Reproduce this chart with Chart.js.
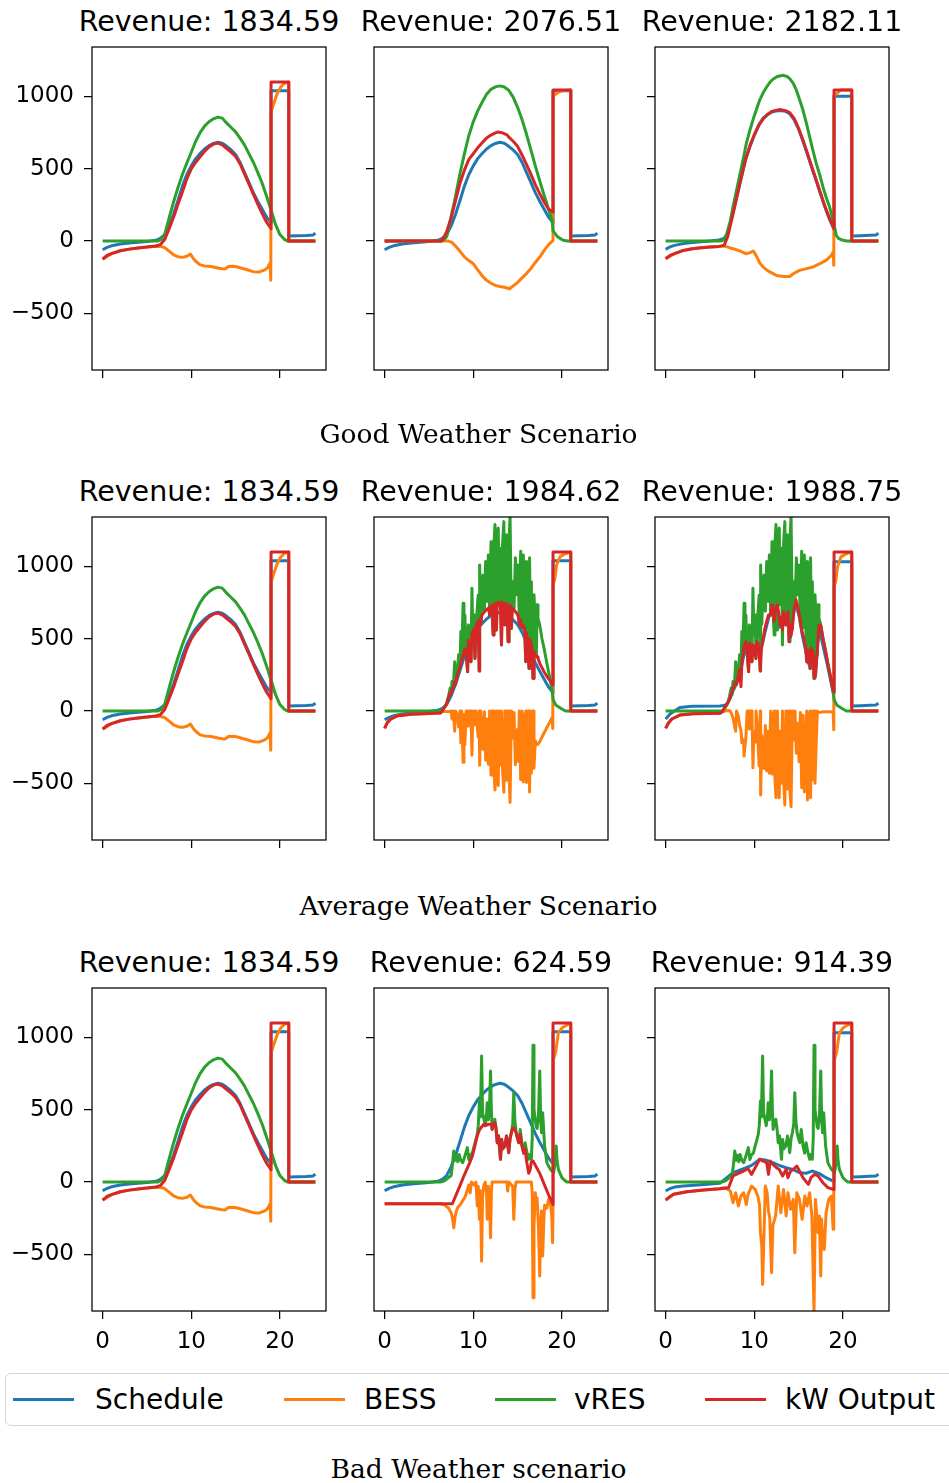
<!DOCTYPE html>
<html><head><meta charset="utf-8">
<script src="https://cdn.jsdelivr.net/npm/chart.js@4.4.0/dist/chart.umd.min.js"></script>
<style>
html,body{margin:0;padding:0;background:#fff;}
#fig{position:relative;width:949px;height:1483px;overflow:hidden;background:#fff;font-family:'DejaVu Sans',sans-serif;}
#fig canvas{position:absolute;}
.ttl{position:absolute;font-size:28.5px;line-height:1;color:#000;white-space:nowrap;transform:translateX(-50%);}
.cap{position:absolute;font-family:'DejaVu Serif',serif;font-size:26.5px;line-height:1;color:#000;white-space:nowrap;transform:translateX(-50%);}
.lgbox{position:absolute;left:5px;top:1373px;width:980px;height:53px;border:1.5px solid #d6d6d6;border-radius:6px;box-sizing:border-box;background:#fff;}
.lgline{position:absolute;height:3px;top:1398px;}
.lgtxt{position:absolute;font-size:28px;line-height:1;top:1386px;white-space:nowrap;color:#000;}
</style></head>
<body><div id="fig"></div>
<script>
// ---------------- data ----------------
const hourTicks = [0, 10, 20];
const valueTicks = [-500, 0, 500, 1000];
const revenues = ["1834.59","2076.51","2182.11","1834.59","1984.62","1988.75","1834.59","624.59","914.39"];
const scenarios = ["Good Weather Scenario","Average Weather Scenario","Bad Weather scenario"];
const seriesNames = ["Schedule","BESS","vRES","kW Output"];

// schedule shared by columns 1 and 2
const schedForecast = [[0,-60],[0.5,-44],[1,-33],[2,-21],[3,-14],[4,-8],[5,-3],[6,5],[6.5,18],[7,45],[7.5,105],[8,185],[8.5,280],[9,380],[9.5,460],[10,520],[10.5,570],[11,605],[11.5,637],[12,660],[12.5,675],[13,683],[13.5,676],[14,655],[14.5,630],[15,598],[15.5,545],[16,475],[16.5,405],[17,335],[17.5,275],[18,220],[18.5,165],[19,125],[19,1040],[21,1040],[21,35],[22,36],[23,38],[23.75,42],[24,55]];

// column 1 (identical in all scenarios)
const vresBase = [[0,0],[6.2,0],[6.6,12],[7,45],[7.5,160],[8,270],[8.5,370],[9,460],[9.5,540],[10,614],[10.5,690],[11,750],[11.5,795],[12,825],[12.5,845],[13,857],[13.5,850],[14,815],[14.5,785],[15,755],[15.5,712],[16,665],[16.5,605],[17,545],[17.5,475],[18,400],[18.5,310],[19,215],[19.5,115],[20,45],[20.5,12],[20.9,0],[24,0]];
const outBase = [[0,-125],[0.5,-100],[1,-87],[2,-67],[3,-56],[4,-48],[5,-42],[6,-34],[6.5,-25],[7,10],[7.5,85],[8,165],[8.5,255],[9,340],[9.5,430],[10,499],[10.5,545],[11,582],[11.5,620],[12,650],[12.5,670],[13,677],[13.5,665],[14,640],[14.5,615],[15,585],[15.5,535],[16,465],[16.5,395],[17,325],[17.5,255],[18,190],[18.5,130],[19,85],[19,1100],[21,1100],[21,0],[24,0]];
const bessBase = [[0,-125],[1,-87],[2,-67],[3,-56],[4,-48],[5,-42],[6,-36],[6.5,-37],[7,-45],[7.5,-70],[8,-95],[8.5,-108],[9,-113],[9.5,-105],[9.9,-90],[10.2,-118],[10.5,-140],[11,-165],[11.5,-172],[12,-175],[12.5,-180],[13,-187],[13.5,-192],[13.8,-194],[14.2,-176],[14.7,-175],[15.2,-180],[15.7,-188],[16.3,-199],[17,-212],[17.7,-214],[18.3,-200],[18.6,-185],[18.9,-150],[18.97,-272],[19,890],[19.3,950],[19.7,1020],[20.1,1065],[20.5,1090],[21,1100],[21,0],[24,0]];

// good weather, columns 2 and 3
const vresGoodB = [[0,0],[6.3,0],[6.7,10],[7,30],[7.5,170],[8,310],[8.5,466],[9,605],[9.5,730],[10,824],[10.5,900],[11,960],[11.5,1015],[12,1050],[12.5,1066],[13,1073],[13.5,1065],[14,1043],[14.5,995],[15,925],[15.5,840],[16,740],[16.5,630],[17,520],[17.5,415],[18,315],[18.5,220],[18.9,143],[19,70],[19.5,30],[20,10],[20.3,3],[20.6,0],[24,0]];
const outGoodB = [[0,0],[6.4,0],[6.6,16],[7,65],[7.5,160],[8,280],[8.5,400],[9,490],[9.5,565],[10,604],[10.5,645],[11,680],[11.5,712],[12,733],[12.5,748],[12.8,754],[13.3,748],[13.8,735],[14.1,713],[14.5,690],[15,655],[15.5,595],[16,530],[16.5,462],[17,390],[17.5,328],[18,270],[18.5,220],[19,200],[19,1045],[21,1045],[21,0],[24,0]];
const bessGoodB = [[0,0],[7.2,0],[7.6,-10],[8,-35],[8.5,-70],[9,-110],[9.5,-135],[10,-157],[10.5,-200],[11,-240],[11.5,-272],[12,-292],[12.5,-307],[13,-314],[13.5,-320],[14.1,-330],[14.5,-310],[15,-287],[15.5,-255],[16,-225],[16.5,-190],[17,-148],[17.5,-111],[18,-65],[18.5,-25],[19,5],[19,1000],[19.5,1025],[20,1040],[21,1045],[21,0],[24,0]];
const schedGoodC = [[0,-58],[0.5,-40],[1,-30],[2,-18],[3,-10],[4,-5],[5,0],[6,8],[6.5,16],[7,45],[7.5,170],[8,300],[8.5,430],[9,560],[9.5,650],[10,730],[10.5,800],[11,850],[11.5,875],[12,893],[12.5,900],[13,903],[13.5,898],[14,880],[14.5,838],[15,775],[15.5,690],[16,600],[16.5,505],[17,415],[17.5,320],[18,230],[18.5,150],[19,80],[19,1001],[21,1001],[21,35],[22,37],[23,40],[23.75,42],[24,55]];
const vresGoodC = [[0,0],[6.3,0],[6.6,10],[6.9,51],[7.3,140],[7.6,235],[8,350],[8.4,466],[8.8,580],[9.1,674],[9.5,765],[9.9,847],[10.3,920],[10.6,973],[11,1025],[11.4,1066],[11.8,1100],[12.1,1119],[12.6,1138],[13.3,1146],[13.7,1138],[14,1123],[14.4,1090],[14.75,1043],[15.1,980],[15.5,904],[15.9,810],[16.25,720],[16.6,630],[17,535],[17.4,455],[17.75,374],[18.1,305],[18.5,235],[18.9,143],[19.25,39],[19.5,18],[19.8,9],[20.4,0],[24,0]];
const outGoodC = [[0,-122],[0.5,-100],[1,-87],[2,-65],[3,-54],[4,-47],[5,-42],[6,-37],[6.6,-30],[7,30],[7.5,160],[8,295],[8.5,430],[9,560],[9.5,660],[10,735],[10.5,800],[11,845],[11.5,875],[12,897],[12.5,905],[13,909],[13.5,902],[14,888],[14.5,848],[15,780],[15.5,697],[16,605],[16.5,512],[17,420],[17.5,327],[18,235],[18.5,155],[19,85],[19,1045],[21,1045],[21,0],[24,0]];
const bessGoodC = [[0,-122],[1,-87],[2,-65],[3,-54],[4,-47],[5,-42],[6,-37],[6.6,-35],[7.1,-44],[7.6,-53],[8.4,-69],[9.1,-88],[9.5,-80],[9.9,-69],[10.3,-111],[10.6,-150],[11,-180],[11.4,-200],[11.8,-215],[12.5,-238],[13.3,-245],[14,-245],[14.4,-226],[15.1,-203],[15.9,-191],[16.6,-180],[17.4,-157],[18.1,-134],[18.7,-99],[18.9,-76],[18.97,-168],[19,1005],[19.4,1025],[19.8,1045],[21,1045],[21,0],[24,0]];

// average weather
const vresAvg = [[0,0],[6.3,0],[6.5,7],[6.8,30],[7.0,55],[7.2,100],[7.4,160],[7.5,115],[7.6,205],[7.75,160],[7.9,340],[8.0,185],[8.2,275],[8.35,390],[8.5,300],[8.6,550],[8.7,365],[8.85,745],[8.95,435],[9.05,665],[9.2,400],[9.36,272],[9.45,595],[9.55,440],[9.74,341],[9.85,850],[9.95,530],[10.1,665],[10.19,364],[10.3,560],[10.4,665],[10.55,800],[10.67,277],[10.72,1010],[10.85,600],[10.95,780],[11.1,940],[11.25,690],[11.4,1035],[11.55,760],[11.7,1080],[11.85,665],[12.0,1170],[12.1,710],[12.25,526],[12.33,1150],[12.45,1290],[12.55,760],[12.62,560],[12.7,1220],[12.82,1265],[12.92,735],[13.05,1125],[13.18,457],[13.3,1150],[13.45,1310],[13.56,595],[13.65,690],[13.75,1220],[13.85,665],[13.93,480],[14.03,1150],[14.15,1360],[14.3,572],[14.4,760],[14.5,895],[14.6,710],[14.75,1060],[14.9,805],[15.05,1010],[15.2,595],[15.35,1105],[15.5,575],[15.65,1080],[15.8,600],[15.92,341],[16.0,1035],[16.15,480],[16.29,295],[16.35,1060],[16.45,500],[16.55,895],[16.65,420],[16.74,226],[16.85,805],[17.0,595],[17.12,388],[17.2,735],[17.3,640],[17.5,595],[17.75,500],[18.0,430],[18.3,330],[18.6,240],[18.9,140],[19.0,80],[19.3,42],[19.6,30],[20.0,14],[20.4,0],[24,0]];
const outAvgB = [[0,-120],[0.3,-80],[0.7,-55],[1.5,-32],[3,-22],[5,-17],[6.3,-14],[6.5,0],[6.8,28],[7.0,50],[7.2,95],[7.4,125],[7.5,115],[7.6,150],[7.75,160],[7.9,200],[8.0,185],[8.2,250],[8.35,280],[8.5,300],[8.6,330],[8.7,360],[8.85,390],[8.95,410],[9.05,430],[9.2,400],[9.36,272],[9.45,490],[9.55,440],[9.74,341],[9.85,545],[9.95,530],[10.1,570],[10.19,364],[10.3,560],[10.4,605],[10.55,620],[10.67,277],[10.72,635],[10.85,600],[10.95,660],[11.1,675],[11.25,685],[11.4,695],[11.55,705],[11.7,712],[11.85,665],[12.0,728],[12.1,710],[12.25,526],[12.33,738],[12.45,744],[12.55,746],[12.62,560],[12.7,748],[12.82,750],[12.92,735],[13.05,752],[13.18,457],[13.3,750],[13.45,748],[13.56,595],[13.65,690],[13.75,742],[13.85,665],[13.93,480],[14.03,734],[14.15,728],[14.3,572],[14.4,712],[14.5,708],[14.6,700],[14.75,688],[14.9,675],[15.05,662],[15.2,595],[15.35,630],[15.5,575],[15.65,590],[15.8,565],[15.92,341],[16.0,540],[16.15,480],[16.29,295],[16.35,500],[16.45,480],[16.55,465],[16.65,420],[16.74,226],[16.85,410],[17.0,390],[17.12,380],[17.2,375],[17.3,365],[17.5,330],[17.75,300],[18.0,270],[18.3,240],[18.6,215],[18.9,190],[19,180],[19,1100],[21,1100],[21,0],[24,0]];
const bessAvgB = [[0,-120],[0.3,-80],[0.7,-55],[1.5,-32],[3,-22],[5,-17],[6.3,-14],[6.5,-3],[7.0,-3],[7.4,-3],[7.5,0],[7.6,-55],[7.75,0],[7.9,-140],[8.0,0],[8.2,-25],[8.35,-110],[8.5,0],[8.6,-220],[8.7,0],[8.85,-355],[8.95,-25],[9.05,-235],[9.2,0],[9.36,0],[9.45,-105],[9.55,0],[9.74,0],[9.85,-305],[9.95,0],[10.1,-95],[10.19,0],[10.3,0],[10.4,-60],[10.55,-180],[10.67,0],[10.72,-375],[10.85,0],[10.95,-120],[11.1,-265],[11.25,-5],[11.4,-340],[11.55,-55],[11.7,-368],[11.85,0],[12.0,-442],[12.1,0],[12.25,0],[12.33,-412],[12.45,-546],[12.55,-14],[12.62,0],[12.7,-472],[12.82,-515],[12.92,0],[13.05,-373],[13.18,0],[13.3,-400],[13.45,-562],[13.56,0],[13.65,0],[13.75,-478],[13.85,0],[13.93,0],[14.03,-416],[14.15,-632],[14.3,0],[14.4,-48],[14.5,-187],[14.6,-10],[14.75,-372],[14.9,-130],[15.05,-348],[15.2,0],[15.35,-475],[15.5,0],[15.65,-490],[15.8,-35],[15.92,0],[16.0,-495],[16.15,0],[16.29,0],[16.35,-560],[16.45,-20],[16.55,-430],[16.65,0],[16.74,0],[16.85,-395],[17.0,-205],[17.12,-235],[17.2,-230],[17.3,-225],[17.5,-212],[17.75,-180],[18.0,-150],[18.3,-115],[18.6,-80],[18.9,-45],[18.97,-120],[19,870],[19.2,915],[19.4,1010],[19.8,1068],[20.3,1085],[21,1100],[21,0],[24,0]];
const schedAvgC = [[0,-55],[0.5,-20],[1.6,25],[3,33],[6.1,35],[6.5,38],[6.7,40],[7.0,55],[7.3,90],[7.6,140],[8.0,190],[8.4,260],[8.8,380],[9.1,430],[9.6,420],[10.2,440],[10.9,460],[11.2,540],[11.6,640],[12.0,710],[12.2,650],[12.6,710],[12.9,580],[13.3,665],[13.6,600],[13.8,665],[14.1,510],[14.4,665],[14.7,745],[15.1,645],[15.4,530],[15.8,415],[16.1,330],[16.3,415],[16.7,370],[16.9,240],[17.3,575],[17.8,440],[18.3,305],[18.9,125],[19,125],[19,1033],[21,1033],[21,35],[22,37],[23,40],[23.75,42],[24,55]];
const outAvgC = [[0,-120],[0.3,-85],[0.7,-55],[1.6,-28],[3.1,-18],[6.1,-16],[6.4,-5],[6.7,30],[7.0,55],[7.3,99],[7.6,157],[7.9,200],[8.0,185],[8.2,240],[8.35,290],[8.5,168],[8.6,330],[8.8,434],[9.05,480],[9.2,400],[9.36,272],[9.45,470],[9.55,440],[9.74,341],[9.85,457],[9.95,388],[10.1,450],[10.19,364],[10.3,480],[10.4,470],[10.55,420],[10.67,277],[10.8,430],[10.95,480],[11.2,572],[11.4,620],[11.6,664],[11.85,665],[12.0,734],[12.1,700],[12.2,664],[12.25,620],[12.4,700],[12.6,734],[12.75,680],[12.9,595],[13.1,650],[13.18,560],[13.3,687],[13.45,650],[13.56,595],[13.65,640],[13.8,687],[13.93,480],[14.05,600],[14.15,526],[14.3,572],[14.45,690],[14.7,768],[14.9,720],[15.1,664],[15.25,595],[15.4,549],[15.6,500],[15.8,434],[15.92,341],[16.1,420],[16.29,295],[16.4,434],[16.55,420],[16.65,388],[16.74,226],[16.9,249],[17.1,420],[17.3,595],[17.5,590],[17.8,490],[18.0,425],[18.3,325],[18.6,235],[18.9,138],[19,134],[19,1100],[21,1100],[21,0],[24,0]];
const bessAvgC = [[0,-120],[0.3,-85],[0.7,-55],[1.6,-28],[3.1,-18],[6.1,-16],[6.4,-5],[6.7,0],[7.0,3],[7.3,0],[7.6,-48],[7.9,-140],[8.0,0],[8.2,-35],[8.35,-100],[8.5,-132],[8.6,-220],[8.8,-200],[8.85,-311],[9.05,-185],[9.2,0],[9.36,0],[9.45,-125],[9.55,0],[9.74,0],[9.85,-393],[9.95,-142],[10.1,-215],[10.19,0],[10.3,-80],[10.4,-195],[10.55,-380],[10.67,0],[10.72,-581],[10.85,-170],[10.95,-300],[11.1,-397],[11.25,-100],[11.4,-415],[11.55,-140],[11.7,-430],[11.85,0],[12.0,-436],[12.1,-30],[12.25,0],[12.33,-470],[12.45,-600],[12.55,-40],[12.62,0],[12.7,-520],[12.82,-600],[12.92,-140],[13.05,-500],[13.18,0],[13.3,-463],[13.45,-650],[13.56,0],[13.65,-50],[13.75,-540],[13.85,0],[13.93,0],[14.03,-560],[14.15,-662],[14.3,0],[14.4,-60],[14.5,-200],[14.6,0],[14.75,-292],[14.9,-85],[15.05,-350],[15.2,-10],[15.35,-530],[15.5,-30],[15.65,-560],[15.8,-150],[15.92,0],[16.0,-616],[16.15,-40],[16.29,0],[16.35,-600],[16.45,-60],[16.55,-475],[16.65,0],[16.74,0],[16.85,-500],[17.0,-200],[17.12,0],[17.2,-10],[17.3,-10],[17.5,-8],[17.8,-5],[18.3,-5],[18.6,-5],[18.9,-8],[18.97,-130],[19,860],[19.2,900],[19.4,1000],[19.8,1068],[20.3,1085],[21,1100],[21,0],[24,0]];

// bad weather
const vresBad = [[0,0],[6.3,0],[6.6,5],[6.9,15],[7.2,30],[7.5,45],[7.65,120],[7.8,215],[7.95,150],[8.1,185],[8.25,140],[8.4,191],[8.6,150],[8.8,134],[9.0,170],[9.15,200],[9.33,238],[9.5,155],[9.7,190],[9.9,200],[10.1,250],[10.26,284],[10.45,330],[10.56,388],[10.7,560],[10.8,450],[10.94,872],[11.05,480],[11.2,434],[11.35,390],[11.5,470],[11.57,549],[11.7,430],[11.82,500],[11.95,768],[12.05,480],[12.13,364],[12.3,400],[12.43,434],[12.55,380],[12.7,272],[12.85,320],[13.07,157],[13.2,295],[13.35,230],[13.56,249],[13.75,318],[13.88,260],[14.0,203],[14.15,300],[14.3,341],[14.45,400],[14.57,618],[14.7,420],[14.83,341],[15.0,300],[15.13,272],[15.3,364],[15.5,250],[15.69,200],[15.85,272],[16.0,220],[16.25,157],[16.4,190],[16.55,157],[16.65,300],[16.74,946],[16.85,500],[17.0,434],[17.1,380],[17.2,370],[17.35,450],[17.5,768],[17.6,450],[17.7,341],[17.83,480],[17.95,350],[18.05,249],[18.3,134],[18.5,110],[18.7,88],[18.9,75],[19.06,65],[19.2,120],[19.36,249],[19.45,150],[19.6,88],[20.0,30],[20.3,12],[20.56,0],[24,0]];
const outBadB = [[0,-150],[7.64,-150],[8.5,-25],[9.0,50],[9.6,134],[9.9,180],[10.1,230],[10.26,272],[10.45,318],[10.56,340],[10.7,360],[10.8,370],[10.94,380],[11.05,390],[11.2,400],[11.35,390],[11.5,400],[11.57,395],[11.7,400],[11.82,400],[11.95,400],[12.05,400],[12.13,364],[12.3,400],[12.43,410],[12.55,380],[12.7,272],[12.85,320],[13.07,157],[13.2,295],[13.35,230],[13.56,249],[13.75,318],[13.88,260],[14.0,203],[14.15,300],[14.3,341],[14.45,370],[14.57,364],[14.7,370],[14.83,341],[15.0,300],[15.13,272],[15.3,330],[15.5,250],[15.69,200],[15.85,230],[16.0,150],[16.25,60],[16.4,80],[16.55,140],[16.65,145],[16.74,145],[17.5,60],[18.5,-90],[19,-155],[19,1100],[21,1100],[21,0],[24,0]];
const bessBadB = [[0,-150],[6.3,-150],[6.8,-160],[7.2,-180],[7.5,-212],[7.65,-250],[7.8,-316],[7.95,-240],[8.1,-200],[8.3,-170],[8.5,-160],[8.7,-140],[8.9,-120],[9.1,-100],[9.3,-60],[9.5,-20],[9.65,-74],[9.8,0],[10.1,-20],[10.3,0],[10.45,-166],[10.56,-30],[10.7,-258],[10.8,-60],[10.94,-547],[11.05,-100],[11.2,-20],[11.35,0],[11.5,-70],[11.57,-258],[11.7,-30],[11.82,-100],[11.95,-385],[12.05,-60],[12.13,0],[12.3,0],[13.8,0],[13.88,-62],[14.0,0],[14.45,-30],[14.57,-258],[14.7,-50],[14.83,0],[16.55,0],[16.65,-74],[16.74,-800],[16.85,-300],[17.0,-74],[17.1,-150],[17.2,-110],[17.35,-305],[17.5,-650],[17.6,-300],[17.7,-200],[17.83,-512],[17.95,-280],[18.05,-160],[18.3,-180],[18.5,-120],[18.7,-140],[18.85,-230],[18.95,-420],[19,-150],[19,837],[19.3,900],[19.6,1033],[20.0,1065],[20.5,1084],[21,1100],[21,0],[24,0]];
const schedBadC = [[0,-62],[0.5,-45],[1,-35],[2,-28],[4,-18],[6.1,-9],[6.7,20],[7.6,65],[8.5,85],[9.1,99],[9.7,115],[10.6,157],[11.4,150],[12.1,134],[12.8,115],[13.6,99],[14.4,85],[15.1,65],[15.8,60],[16.6,76],[17.3,60],[18.1,30],[18.9,7],[19,7],[19,1033],[21,1033],[21,35],[22,37],[23,40],[23.75,42],[24,55]];
const outBadC = [[0,-125],[0.5,-100],[0.9,-85],[2.4,-67],[4.3,-55],[6.1,-46],[7.1,-39],[7.6,42],[8.2,60],[8.8,76],[9.3,92],[9.7,53],[10.1,99],[10.6,157],[11.0,145],[11.4,135],[11.6,53],[11.8,145],[12.1,122],[12.5,99],[12.8,88],[13.2,42],[13.6,88],[13.8,30],[14.1,76],[14.4,88],[14.8,111],[15.1,76],[15.5,30],[16.1,-16],[16.4,30],[16.8,53],[17.2,42],[17.75,-5],[18.3,-39],[18.9,-51],[19,-51],[19,1100],[21,1100],[21,0],[24,0]];
const bessBadC = [[0,-125],[0.9,-85],[2.4,-67],[4.3,-55],[6.1,-46],[6.7,-40],[7.3,-62],[7.6,-143],[7.9,-75],[8.2,-166],[8.5,-97],[8.8,-74],[9.1,-155],[9.3,-85],[9.7,-28],[10.1,-51],[10.4,-97],[10.6,-160],[10.7,-350],[10.85,-443],[10.94,-708],[11.1,-350],[11.25,-28],[11.45,-74],[11.6,-200],[11.75,-250],[11.95,-627],[12.1,-300],[12.4,-235],[12.7,-28],[13.0,-212],[13.3,-51],[13.6,-235],[13.8,-74],[14.1,-189],[14.4,-120],[14.57,-489],[14.8,-74],[15.1,-120],[15.4,-258],[15.7,-97],[15.95,-166],[16.25,-74],[16.5,-235],[16.74,-893],[16.9,-120],[17.2,-350],[17.35,-235],[17.5,-650],[17.6,-258],[17.75,-443],[17.9,-466],[18.1,-212],[18.4,-120],[18.7,-97],[18.9,-327],[18.97,-100],[19,837],[19.3,900],[19.6,1030],[20.0,1065],[20.5,1084],[21,1100],[21,0],[24,0]];

// panel -> series (row-major)
const panelSeries = [
  [schedForecast, bessBase, vresBase, outBase],
  [schedForecast, bessGoodB, vresGoodB, outGoodB],
  [schedGoodC, bessGoodC, vresGoodC, outGoodC],
  [schedForecast, bessBase, vresBase, outBase],
  [schedForecast, bessAvgB, vresAvg, outAvgB],
  [schedAvgC, bessAvgC, vresAvg, outAvgC],
  [schedForecast, bessBase, vresBase, outBase],
  [schedForecast, bessBadB, vresBad, outBadB],
  [schedBadC, bessBadC, vresBad, outBadC]
];

// ---------------- layout / style ----------------
const colors = ['#1f77b4','#ff7f0e','#2ca02c','#d62728'];
const PL = [92, 374, 655], PT = [47, 517, 988], PW = 234, PH = 323;
const AXW = 90, AXH = 50, PADT = 5, PADR = 5;
const fig = document.getElementById('fig');
Chart.defaults.font.family = "'DejaVu Sans', sans-serif";

const boxPlugin = {
  id: 'box',
  afterDatasetsDraw(ch) {
    const a = ch.chartArea, g = ch.ctx;
    g.save(); g.strokeStyle = '#000'; g.lineWidth = 1.25;
    g.strokeRect(a.left, a.top, a.right - a.left, a.bottom - a.top);
    g.restore();
  }
};
const fmt = v => v < 0 ? '\u2212' + Math.abs(v) : String(v);

function makePanel(i) {
  const r = Math.floor(i / 3), c = i % 3;
  const w = AXW + PW + PADR, h = PADT + PH + AXH;
  const cv = document.createElement('canvas');
  cv.width = w; cv.height = h;
  cv.style.left = (PL[c] - AXW) + 'px'; cv.style.top = (PT[r] - PADT) + 'px';
  cv.style.width = w + 'px'; cv.style.height = h + 'px';
  fig.appendChild(cv);

  const t = document.createElement('div');
  t.className = 'ttl'; t.textContent = 'Revenue: ' + revenues[i];
  t.style.left = (PL[c] + PW / 2) + 'px'; t.style.top = (PT[r] - 39) + 'px';
  fig.appendChild(t);

  const datasets = panelSeries[i].map((arr, k) => ({
    label: seriesNames[k],
    data: arr.map(p => ({x: p[0], y: p[1]})),
    borderColor: colors[k], backgroundColor: colors[k],
    borderWidth: 3, pointRadius: 0, tension: 0, fill: false,
    order: 4 - k, clip: 0, borderJoinStyle: 'round', borderCapStyle: 'butt'
  }));
  const hide = 'rgba(0,0,0,0)';
  new Chart(cv, {
    type: 'line',
    data: {datasets},
    options: {
      responsive: false, animation: false, devicePixelRatio: 1,
      layout: {padding: {left: 0, top: PADT, right: PADR, bottom: 0}},
      plugins: {legend: {display: false}, tooltip: {enabled: false}},
      events: [],
      scales: {
        x: {
          type: 'linear', min: -1.2, max: 25.2,
          afterFit: s => { s.height = AXH; s.paddingLeft = 0; s.paddingRight = 0; },
          afterBuildTicks: s => { s.ticks = hourTicks.map(v => ({value: v})); },
          grid: {drawOnChartArea: false, drawTicks: true, tickLength: 8, color: '#000', lineWidth: 1.25},
          border: {display: false},
          ticks: {color: r === 2 ? '#000' : hide, font: {size: 23}, padding: 9, maxRotation: 0, autoSkip: false, callback: v => fmt(v)}
        },
        y: {
          type: 'linear', min: -892, max: 1342,
          afterFit: s => { s.width = AXW; s.paddingTop = 0; s.paddingBottom = 0; },
          afterBuildTicks: s => { s.ticks = valueTicks.map(v => ({value: v})); },
          grid: {drawOnChartArea: false, drawTicks: true, tickLength: 8, color: '#000', lineWidth: 1.25},
          border: {display: false},
          ticks: {color: c === 0 ? '#000' : hide, font: {size: 23}, padding: 10, autoSkip: false, callback: v => fmt(v)}
        }
      }
    },
    plugins: [boxPlugin]
  });
}
for (let i = 0; i < 9; i++) makePanel(i);

// scenario captions
const capTops = [421, 893, 1456];
scenarios.forEach((s, k) => {
  const d = document.createElement('div');
  d.className = 'cap'; d.textContent = s;
  d.style.left = '478.5px'; d.style.top = capTops[k] + 'px';
  fig.appendChild(d);
});

// legend
const lg = document.createElement('div'); lg.className = 'lgbox'; fig.appendChild(lg);
const lineX = [13, 284, 495, 705], textX = [95, 364, 574, 785];
seriesNames.forEach((n, k) => {
  const l = document.createElement('div'); l.className = 'lgline';
  l.style.left = lineX[k] + 'px'; l.style.width = '61px'; l.style.background = colors[k];
  fig.appendChild(l);
  const tx = document.createElement('div'); tx.className = 'lgtxt';
  tx.style.left = textX[k] + 'px'; tx.textContent = n;
  fig.appendChild(tx);
});
</script>
</body></html>
